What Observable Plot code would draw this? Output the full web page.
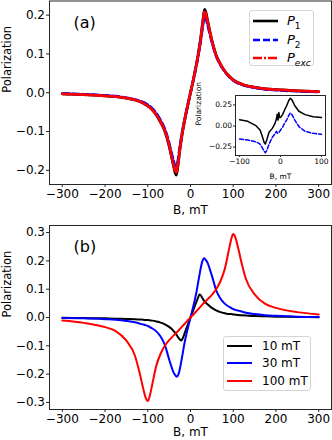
<!DOCTYPE html>
<html><head><meta charset="utf-8">
<script src="https://cdn.jsdelivr.net/npm/d3@7"></script>
<script src="https://cdn.jsdelivr.net/npm/@observablehq/plot@0.6"></script>
<style>
body{margin:0;background:#fff;}
#root{position:relative;width:332px;height:440px;font-family:"DejaVu Sans";overflow:hidden;}
#root > svg, #root > div{position:absolute;}
.leg{background:rgba(255,255,255,0.85);border:1px solid #d4d4d4;border-radius:3px;box-sizing:border-box;}
.lt{position:absolute;color:#000;white-space:nowrap;line-height:1;}
</style>
</head><body><div id="root"></div>
<script>
// ---------- Panel (a) data ----------
const B_A = [-300,-250,-200,-175,-150,-125,-100,-90,-80,-70,-60,-50,-45,-40,-36,-33,-30,-25,-20,-15,-10,-5,0,5,10,15,20,25,30,33,36,40,45,50,60,70,80,90,100,125,150,175,200,250,300];
const P1 = [-0.003,-0.005,-0.008,-0.01,-0.014,-0.02,-0.034,-0.043,-0.057,-0.076,-0.099,-0.137,-0.162,-0.187,-0.206,-0.212,-0.193,-0.148,-0.11,-0.079,-0.051,-0.025,0,0.025,0.052,0.08,0.112,0.15,0.195,0.215,0.207,0.186,0.16,0.135,0.097,0.074,0.056,0.043,0.033,0.02,0.014,0.01,0.008,0.005,0.003];
const P2 = [-0.002,-0.004,-0.007,-0.009,-0.013,-0.019,-0.031,-0.04,-0.053,-0.071,-0.094,-0.13,-0.153,-0.174,-0.188,-0.19,-0.178,-0.14,-0.105,-0.076,-0.05,-0.024,0,0.024,0.05,0.077,0.108,0.143,0.182,0.197,0.192,0.175,0.153,0.131,0.095,0.072,0.055,0.042,0.032,0.019,0.013,0.009,0.007,0.004,0.002];
const PEXC = [-0.003,-0.005,-0.008,-0.01,-0.014,-0.02,-0.034,-0.043,-0.057,-0.075,-0.098,-0.135,-0.16,-0.184,-0.201,-0.205,-0.188,-0.145,-0.108,-0.078,-0.05,-0.025,0,0.025,0.051,0.079,0.11,0.148,0.19,0.21,0.203,0.183,0.158,0.134,0.097,0.074,0.056,0.043,0.033,0.02,0.014,0.01,0.008,0.005,0.003];

// ---------- Inset data ----------
const B_IN1 = [-100,-80,-60,-50,-45,-40,-37,-33,-28,-20,-14,-10,-8,-6,-4,-2,0,5,10,15,20,24,28,35,45,60,80,100];
const IN1 = [0.075,0.056,0.004,-0.048,-0.115,-0.195,-0.214,-0.155,-0.075,-0.028,0.024,0.083,0.14,0.07,0.16,0.10,0.10,0.135,0.19,0.24,0.30,0.33,0.31,0.24,0.175,0.135,0.11,0.10];
const B_IN2 = [-100,-80,-60,-50,-45,-40,-37,-33,-28,-20,-14,-10,-7,-3,0,5,10,15,20,24,28,35,45,60,80,100];
const IN2 = [-0.155,-0.167,-0.187,-0.214,-0.254,-0.30,-0.317,-0.286,-0.214,-0.135,-0.095,-0.063,-0.087,-0.071,-0.048,-0.016,0.032,0.071,0.123,0.155,0.135,0.071,-0.008,-0.063,-0.087,-0.099];

// ---------- Panel (b) data ----------
const B_B = [-300,-250,-200,-175,-150,-130,-120,-110,-105,-100,-95,-90,-80,-70,-60,-50,-45,-40,-35,-32,-28,-24,-21,-18,-14,-10,-5,0,5,10,14,18,21,24,28,32,35,40,45,50,60,70,80,90,95,100,105,110,120,130,150,175,200,250,300];
const S10 = [-0.001,-0.002,-0.003,-0.004,-0.005,-0.006,-0.007,-0.008,-0.009,-0.009,-0.01,-0.011,-0.014,-0.018,-0.024,-0.033,-0.039,-0.047,-0.056,-0.063,-0.072,-0.079,-0.081,-0.073,-0.057,-0.04,-0.02,0,0.02,0.04,0.056,0.071,0.081,0.078,0.068,0.059,0.053,0.047,0.04,0.034,0.025,0.019,0.015,0.012,0.012,0.011,0.01,0.009,0.008,0.007,0.005,0.004,0.003,0.002,0.001];
const S30 = [-0.002,-0.003,-0.006,-0.008,-0.012,-0.017,-0.021,-0.025,-0.027,-0.03,-0.034,-0.038,-0.049,-0.067,-0.097,-0.148,-0.172,-0.193,-0.205,-0.209,-0.2,-0.175,-0.15,-0.125,-0.09,-0.062,-0.03,0,0.03,0.062,0.09,0.125,0.15,0.175,0.2,0.209,0.205,0.193,0.172,0.148,0.097,0.067,0.049,0.038,0.034,0.03,0.027,0.025,0.021,0.017,0.012,0.008,0.006,0.003,0.002];
const S100 = [-0.011,-0.019,-0.034,-0.048,-0.082,-0.135,-0.19,-0.255,-0.283,-0.295,-0.275,-0.24,-0.17,-0.128,-0.1,-0.08,-0.072,-0.064,-0.057,-0.052,-0.046,-0.039,-0.034,-0.029,-0.023,-0.016,-0.008,0,0.008,0.016,0.023,0.029,0.034,0.039,0.046,0.052,0.057,0.064,0.072,0.08,0.1,0.128,0.17,0.24,0.275,0.295,0.283,0.255,0.19,0.135,0.082,0.048,0.034,0.019,0.011];

// ---------- Ticks / labels ----------
const X_TICKS = [-300,-200,-100,0,100,200,300];
const Y_TICKS_A = [-0.2,-0.1,0,0.1,0.2];
const Y_TICKS_B = [-0.3,-0.2,-0.1,0,0.1,0.2,0.3];
const IN_X_TICKS = [-100,0,100];
const IN_Y_TICKS = [-0.25,0,0.25];
const X_LABEL = "B, mT";
const Y_LABEL = "Polarization";
const LEG_A = [["P","1"],["P","2"],["P","exc"]];
const LEG_B = ["10 mT","30 mT","100 mT"];

const rows = (B, P) => B.map((b, i) => ({B: b, P: P[i]}));
const fInt = d3.format("d"), f1 = d3.format(".1f"), f2 = d3.format(".2f");
const FR = "#262626";
const root = document.getElementById("root");
const place = (el, left, top) => { el.style.left = left + "px"; el.style.top = top + "px"; root.appendChild(el); };

// ---------- Panel (a) ----------
const svgA = Plot.plot({
  width: 332, height: 220, marginLeft: 49, marginRight: 1, marginTop: 0.5, marginBottom: 36,
  style: {fontFamily: "DejaVu Sans", fontSize: "12px", background: "transparent", color: "#000", overflow: "visible"},
  x: {domain: [-330, 330]},
  y: {domain: [-0.2365, 0.2365]},
  marks: [
    Plot.line(rows(B_A, P1), {x: "B", y: "P", stroke: "#000", strokeWidth: 2.8, curve: "monotone-x"}),
    Plot.line(rows(B_A, P2), {x: "B", y: "P", stroke: "#0000ff", strokeWidth: 2.8, strokeDasharray: "7,3", curve: "monotone-x"}),
    Plot.line(rows(B_A, PEXC), {x: "B", y: "P", stroke: "#ff0000", strokeWidth: 2.8, strokeDasharray: "9,2,2,2", curve: "monotone-x"}),
    Plot.frame({stroke: FR, strokeWidth: 1}),
    Plot.axisX({ticks: X_TICKS, tickFormat: fInt, tickSize: 3, tickPadding: 2, label: null, stroke: FR}),
    Plot.axisY({ticks: Y_TICKS_A, tickFormat: f1, tickSize: 3, tickPadding: 1.5, label: null, stroke: FR}),
    Plot.text([X_LABEL], {frameAnchor: "bottom", dy: 26, lineAnchor: "middle", fontSize: 12}),
    Plot.text([Y_LABEL], {frameAnchor: "left", dx: -42, rotate: -90, lineAnchor: "middle", fontSize: 11.5}),
    Plot.text(["(a)"], {frameAnchor: "top-left", dx: 24, dy: 21.5, textAnchor: "start", lineAnchor: "middle", fontSize: 16})
  ]
});
place(svgA, 0, 0);

// ---------- Inset ----------
const svgI = Plot.plot({
  width: 135, height: 90, marginLeft: 40, marginRight: 5, marginTop: 1, marginBottom: 29,
  style: {fontFamily: "DejaVu Sans", fontSize: "7.5px", background: "transparent", color: "#000", overflow: "visible"},
  x: {domain: [-110, 110]},
  y: {domain: [-0.35, 0.362]},
  marks: [
    Plot.frame({fill: "#fff", stroke: "none"}),
    Plot.line(rows(B_IN1, IN1), {x: "B", y: "P", stroke: "#000", strokeWidth: 1.5}),
    Plot.line(rows(B_IN2, IN2), {x: "B", y: "P", stroke: "#0000ff", strokeWidth: 1.5, strokeDasharray: "4,2"}),
    Plot.frame({stroke: FR, strokeWidth: 1}),
    Plot.axisX({ticks: IN_X_TICKS, tickFormat: fInt, tickSize: 2, tickPadding: 1.5, label: null, stroke: FR}),
    Plot.axisY({ticks: IN_Y_TICKS, tickFormat: f2, tickSize: 2, tickPadding: 1.5, label: null, stroke: FR}),
    Plot.text([X_LABEL], {frameAnchor: "bottom", dy: 21, lineAnchor: "middle", fontSize: 7.5}),
    Plot.text([Y_LABEL], {frameAnchor: "left", dx: -36.5, rotate: -90, lineAnchor: "middle", fontSize: 7.5})
  ]
});
place(svgI, 195, 94);

// ---------- Panel (b) ----------
const svgB = Plot.plot({
  width: 332, height: 220, marginLeft: 49, marginRight: 1, marginTop: 5, marginBottom: 31,
  style: {fontFamily: "DejaVu Sans", fontSize: "12px", background: "transparent", color: "#000", overflow: "visible"},
  x: {domain: [-330, 330]},
  y: {domain: [-0.325, 0.325]},
  marks: [
    Plot.line(rows(B_B, S10), {x: "B", y: "P", stroke: "#000", strokeWidth: 2, curve: "monotone-x"}),
    Plot.line(rows(B_B, S30), {x: "B", y: "P", stroke: "#0000ff", strokeWidth: 2, curve: "monotone-x"}),
    Plot.line(rows(B_B, S100), {x: "B", y: "P", stroke: "#ff0000", strokeWidth: 2, curve: "monotone-x"}),
    Plot.frame({stroke: FR, strokeWidth: 1}),
    Plot.axisX({ticks: X_TICKS, tickFormat: fInt, tickSize: 3, tickPadding: 2, label: null, stroke: FR}),
    Plot.axisY({ticks: Y_TICKS_B, tickFormat: f1, tickSize: 3, tickPadding: 1.5, label: null, stroke: FR}),
    Plot.text([X_LABEL], {frameAnchor: "bottom", dy: 23, lineAnchor: "middle", fontSize: 12}),
    Plot.text([Y_LABEL], {frameAnchor: "left", dx: -42, rotate: -90, lineAnchor: "middle", fontSize: 11.5}),
    Plot.text(["(b)"], {frameAnchor: "top-left", dx: 24, dy: 21, textAnchor: "start", lineAnchor: "middle", fontSize: 16})
  ]
});
place(svgB, 0, 220);

// ---------- Legends ----------
function legendLine(x1, x2, y, color, dash, w) {
  const s = d3.create("svg").attr("width", x2 - x1 + 4).attr("height", 8)
    .style("position", "absolute").style("overflow", "visible");
  s.append("line").attr("x1", 2).attr("x2", x2 - x1 + 2).attr("y1", 4).attr("y2", 4)
    .attr("stroke", color).attr("stroke-width", w).attr("stroke-dasharray", dash || null);
  place(s.node(), x1 - 2, y - 4);
}
function legendText(html, x, y, size) {
  const d = document.createElement("div");
  d.className = "lt"; d.style.fontSize = size + "px"; d.innerHTML = html;
  place(d, x, y);
  d.style.top = (y - d.offsetHeight / 2) + "px";
}
function box(l, t, w, h) {
  const d = document.createElement("div"); d.className = "leg";
  d.style.width = w + "px"; d.style.height = h + "px"; place(d, l, t);
}

box(249, 10, 65, 56);
const styA = [["#000", null], ["#0000ff", "7,3"], ["#ff0000", "9,2,2,2"]];
const yA = [21, 40, 58];
LEG_A.forEach((lab, i) => {
  legendLine(253, 278, yA[i], styA[i][0], styA[i][1], 2.6);
  legendText(`<i>${lab[0]}</i><sub style="font-size:9px;${lab[1] === "exc" ? "font-style:italic;" : ""}">${lab[1]}</sub>`, 287, yA[i] + 1, 13);
});

box(223, 336, 88, 55);
const colB = ["#000", "#0000ff", "#ff0000"];
const yB = [345.5, 363, 380.5];
LEG_B.forEach((lab, i) => {
  legendLine(227, 252, yB[i], colB[i], null, 2);
  legendText(lab, 262, yB[i], 12);
});
</script>
</body></html>
